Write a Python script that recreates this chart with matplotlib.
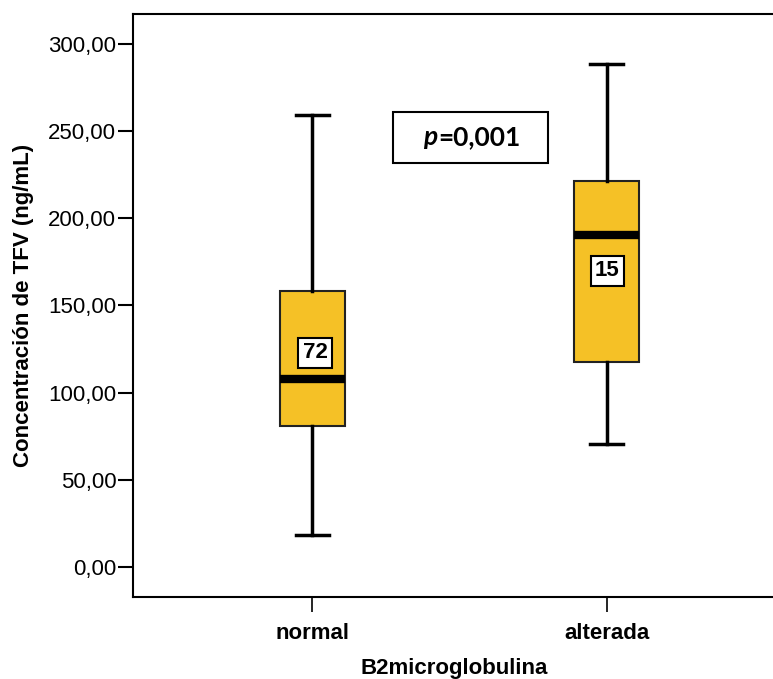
import matplotlib.pyplot as plt
from matplotlib.patches import Rectangle
from matplotlib.ticker import FuncFormatter

plt.rcParams["font.family"] = ["Liberation Sans", "DejaVu Sans"]

# Box summary per B2microglobulina group
groups = ["normal", "alterada"]
q1 = [81.0, 117.8]
median = [107.8, 190.2]
q3 = [158.3, 221.4]
whisker_low = [18.4, 70.4]
whisker_high = [259.3, 288.5]
counts = [72, 15]
p_text = "=0,001"

fig = plt.figure(figsize=(7.73, 6.79), dpi=100)
ax = fig.add_axes([0.172, 0.1208, 0.83, 0.8586])

stats = [
    dict(label=g, q1=a, med=m, q3=b, whislo=lo, whishi=hi, fliers=[])
    for g, a, m, b, lo, hi in zip(groups, q1, median, q3, whisker_low, whisker_high)
]
ax.bxp(
    stats,
    positions=[1, 2],
    widths=0.221,
    patch_artist=True,
    showfliers=False,
    boxprops=dict(facecolor="#F5C126", edgecolor="#222222", linewidth=1.5),
    medianprops=dict(color="black", linewidth=6, solid_capstyle="butt"),
    whiskerprops=dict(color="black", linewidth=2.5),
    capprops=dict(color="black", linewidth=2.5),
)

# group sizes drawn inside each box
label_y = [122.8, 169.8]
for x, y, n in zip([1.01, 2.003], label_y, counts):
    ax.text(x, y, str(n), ha="center", va="center", fontsize=16, fontweight="bold",
            bbox=dict(boxstyle="square,pad=0.2", facecolor="white",
                      edgecolor="black", linewidth=1.5))

# p-value annotation
ax.add_patch(Rectangle((1.275, 231.9), 0.527, 29.3, facecolor="white",
                       edgecolor="black", linewidth=1.5, zorder=3))
ax.text(1.377, 246.7, "p", ha="left", va="center", fontsize=19, fontweight="bold",
        fontstyle="italic", family="Lato", zorder=4)
ax.text(1.427, 246.7, p_text, ha="left", va="center", fontsize=19,
        fontweight="bold", family="Lato", zorder=4)

ax.set_xlim(0.39, 2.571)
ax.set_ylim(-17.2, 317.2)
ax.set_yticks(range(0, 301, 50))
ax.yaxis.set_major_formatter(FuncFormatter(lambda v, _: f"{v:.2f}".replace(".", ",")))
ax.set_xticks([1, 2])
ax.set_xticklabels(groups, fontweight="bold")

ax.tick_params(axis="y", length=11, width=1.5, labelsize=16, pad=1)
ax.tick_params(axis="x", length=11, width=1.2, labelsize=16, pad=8)
for side in ["left", "bottom", "top"]:
    ax.spines[side].set_linewidth(1.5)
ax.spines["right"].set_visible(False)

ax.set_xlabel("B2microglobulina", fontsize=16, fontweight="bold", labelpad=10)
ax.set_ylabel("Concentración de TFV (ng/mL)", fontsize=16, fontweight="bold", labelpad=10)

fig.savefig("out.png", dpi=100)
